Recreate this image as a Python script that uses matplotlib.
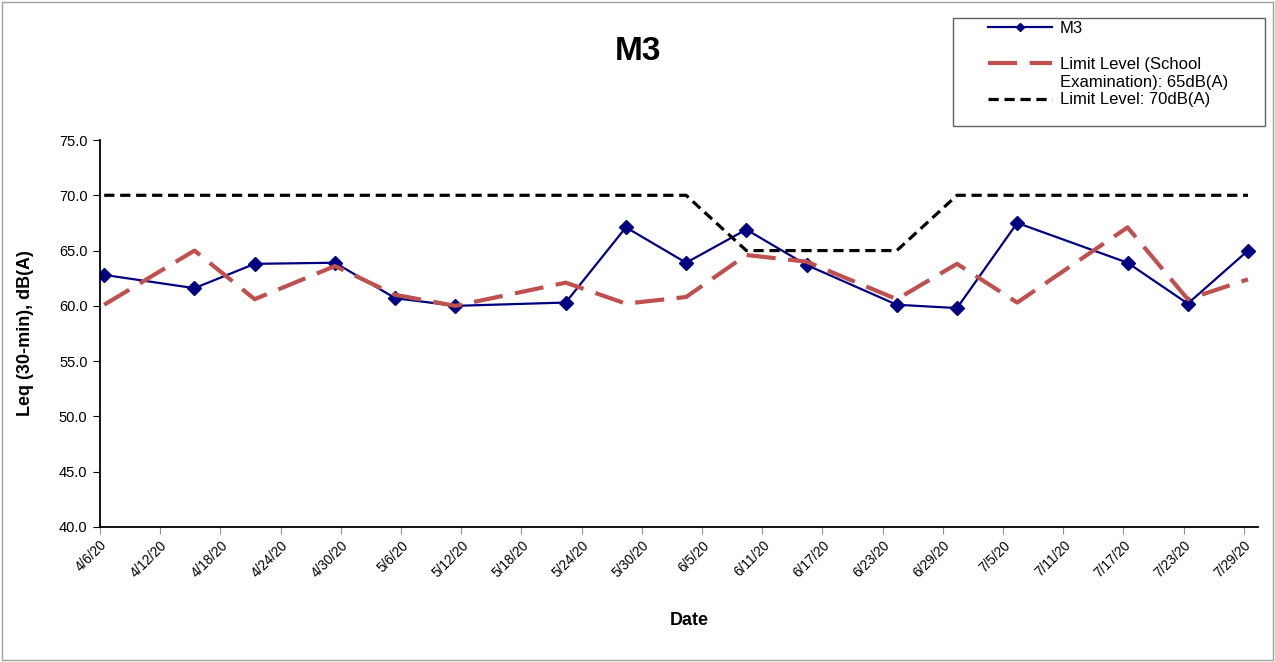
import pandas as pd
import matplotlib.pyplot as plt
import matplotlib.dates as mdates
from matplotlib.lines import Line2D
from matplotlib.patches import Rectangle

plt.rcParams['font.family'] = ['Liberation Sans', 'DejaVu Sans']

# measurement dates (taken at about 10:00)
dates = pd.to_datetime(['2020-04-06', '2020-04-15', '2020-04-21', '2020-04-29', '2020-05-05',
                        '2020-05-11', '2020-05-22', '2020-05-28', '2020-06-03', '2020-06-09',
                        '2020-06-15', '2020-06-24', '2020-06-30', '2020-07-06', '2020-07-17',
                        '2020-07-23', '2020-07-29']) + pd.Timedelta(hours=10)

m3 = [62.8, 61.6, 63.8, 63.9, 60.7, 60.0, 60.3, 67.1, 63.9, 66.9,
      63.7, 60.1, 59.8, 67.5, 63.9, 60.2, 65.0]
limit_school = [60.1, 65.0, 60.6, 63.6, 61.0, 60.0, 62.1, 60.2, 60.8, 64.6,
                64.0, 60.6, 63.8, 60.3, 67.1, 60.6, 62.4]
limit_70 = [70, 70, 70, 70, 70, 70, 70, 70, 70, 65,
            65, 65, 70, 70, 70, 70, 70]

tick_dates = pd.date_range('2020-04-06', '2020-07-29', freq='6D')

fig = plt.figure(figsize=(12.75, 6.62), dpi=100)
ax = fig.add_axes([100 / 1275, 1 - 527 / 662, 1158 / 1275, 387 / 662])

l1, = ax.plot(dates, m3, color='#000080', lw=1.6, marker='D', markersize=7.5)
l2, = ax.plot(dates, limit_school, color='#C0504D', lw=3, dashes=(7, 3))
l3, = ax.plot(dates, limit_70, color='black', lw=2.3, dashes=(3.2, 1.8))

ax.set_ylim(40, 75)
ax.set_yticks([40, 45, 50, 55, 60, 65, 70, 75])
ax.yaxis.set_major_formatter(plt.FormatStrFormatter('%.1f'))
ax.set_xlim(pd.Timestamp('2020-04-06'), pd.Timestamp('2020-07-30 10:00'))
ax.set_xticks(tick_dates)
ax.set_xticklabels([f'{d.month}/{d.day}/20' for d in tick_dates], rotation=45,
                   ha='right', rotation_mode='anchor')

for s in ['top', 'right']:
    ax.spines[s].set_visible(False)
for s in ['left', 'bottom']:
    ax.spines[s].set_linewidth(1.3)
ax.tick_params(axis='y', direction='out', length=5, labelsize=10.5, pad=4)
ax.tick_params(axis='x', direction='out', length=5, color='#909090', labelsize=9.8, pad=3)

ax.set_ylabel('Leq (30-min), dB(A)', fontsize=13, fontweight='bold', labelpad=18)
ax.set_xlabel('Date', fontsize=13, fontweight='bold')
ax.xaxis.set_label_coords(0.509, -0.22)

fig.text(638 / 1275, 1 - 51 / 662, 'M3', fontsize=24, fontweight='bold',
         ha='center', va='center')

# legend (Excel style: handle next to first line of the label)
blank = Line2D([], [], color='none')
fig.legend([l1, blank, l2, blank, l3],
           ['M3', ' ', 'Limit Level (School', 'Examination): 65dB(A)', 'Limit Level: 70dB(A)'],
           loc='upper left', bbox_to_anchor=(988 / 1275, 1 - 21 / 662),
           frameon=False, fontsize=12, handlelength=3.85, handletextpad=0.45,
           labelspacing=0.17, borderpad=0, borderaxespad=0, markerscale=0.55)
fig.patches.append(Rectangle((953 / 1275, 1 - 126 / 662), 312 / 1275, 108 / 662,
                             transform=fig.transFigure, fill=False,
                             edgecolor='#606060', lw=1))
fig.patches.append(Rectangle((2 / 1275, 2 / 662), 1271 / 1275, 658 / 662,
                             transform=fig.transFigure, fill=False,
                             edgecolor='#a0a0a0', lw=1))

fig.savefig('out.png', dpi=100)
